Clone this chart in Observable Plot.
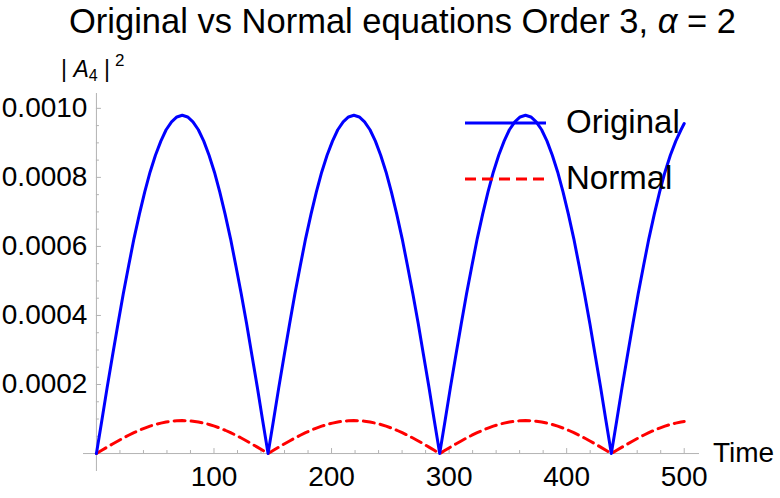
<!DOCTYPE html>
<html>
<head>
<meta charset="utf-8">
<script src="https://cdn.jsdelivr.net/npm/d3@7"></script>
<script src="https://cdn.jsdelivr.net/npm/@observablehq/plot@0.6"></script>
<style>
  body { margin: 0; background: #fff; }
  #wrap { position: relative; width: 780px; height: 498px; font-family: "Liberation Sans", Arial, sans-serif; color: #000; overflow: hidden; }
  .abs { position: absolute; white-space: nowrap; }
  #chart { position: absolute; left: 0; top: 48px; }
</style>
</head>
<body>
<div id="wrap">
  <div class="abs" id="title" style="left:69px; top:4px; font-size:34.5px; line-height:34px;">Original vs Normal equations Order 3, <i>α</i> = 2</div>
  <div class="abs" id="ylab" style="left:61px; top:58px; font-size:23px; line-height:23px;">| <i>A</i><span style="position:relative; top:4px; font-size:16px;">4</span> |<span style="position:relative; top:-11px; font-size:17px; margin-left:5px;">2</span></div>
  <div id="chart"></div>
  <div class="abs" id="xlab" style="left:713px; top:439px; font-size:28px; line-height:28px;">Time</div>
  <div class="abs" id="legend" style="left:0; top:0;"></div>
</div>
<script>
// ---- data ----
const times = [
  0, 4.6, 9.1, 13.7, 18.3, 22.8, 27.4, 31.9, 36.5, 41.1, 45.6, 50.2, 54.8, 59.3, 63.9, 68.4, 73,
  77.6, 82.1, 86.7, 91.3, 95.8, 100.4, 104.9, 109.5, 114.1, 118.6, 123.2, 127.8, 132.3, 136.9, 141.4, 146,
  150.6, 155.1, 159.7, 164.3, 168.8, 173.4, 177.9, 182.5, 187.1, 191.6, 196.2, 200.8, 205.3, 209.9, 214.4, 219,
  223.6, 228.1, 232.7, 237.3, 241.8, 246.4, 250.9, 255.5, 260.1, 264.6, 269.2, 273.8, 278.3, 282.9, 287.4, 292,
  296.6, 301.1, 305.7, 310.3, 314.8, 319.4, 323.9, 328.5, 333.1, 337.6, 342.2, 346.8, 351.3, 355.9, 360.4, 365,
  369.6, 374.1, 378.7, 383.3, 387.8, 392.4, 396.9, 401.5, 406.1, 410.6, 415.2, 419.8, 424.3, 428.9, 433.4, 438,
  442.6, 447.1, 451.7, 456.3, 460.8, 465.4, 469.9, 474.5, 479.1, 483.6, 488.2, 492.8, 497.3, 500
];
const original = [
  0, 0.0000960, 0.000191, 0.000284, 0.000375, 0.000462, 0.000544, 0.000622, 0.000693, 0.000758, 0.000815, 0.000864, 0.000905, 0.000938, 0.000961, 0.000975, 0.000980,
  0.000975, 0.000961, 0.000938, 0.000905, 0.000864, 0.000815, 0.000758, 0.000693, 0.000622, 0.000544, 0.000462, 0.000375, 0.000284, 0.000191, 0.0000960, 0,
  0.0000960, 0.000191, 0.000284, 0.000375, 0.000462, 0.000544, 0.000622, 0.000693, 0.000758, 0.000815, 0.000864, 0.000905, 0.000938, 0.000961, 0.000975, 0.000980,
  0.000975, 0.000961, 0.000938, 0.000905, 0.000864, 0.000815, 0.000758, 0.000693, 0.000622, 0.000544, 0.000462, 0.000375, 0.000284, 0.000191, 0.0000960, 0,
  0.0000960, 0.000191, 0.000284, 0.000375, 0.000462, 0.000544, 0.000622, 0.000693, 0.000758, 0.000815, 0.000864, 0.000905, 0.000938, 0.000961, 0.000975, 0.000980,
  0.000975, 0.000961, 0.000938, 0.000905, 0.000864, 0.000815, 0.000758, 0.000693, 0.000622, 0.000544, 0.000462, 0.000375, 0.000284, 0.000191, 0.0000960, 0,
  0.0000960, 0.000191, 0.000284, 0.000375, 0.000462, 0.000544, 0.000622, 0.000693, 0.000758, 0.000815, 0.000864, 0.000905, 0.000938, 0.000956
];
const normal = [
  0, 0.0000094, 0.0000186, 0.0000277, 0.0000365, 0.0000450, 0.0000531, 0.0000606, 0.0000675, 0.0000738, 0.0000794, 0.0000842, 0.0000882, 0.0000914, 0.0000937, 0.0000950, 0.0000955,
  0.0000950, 0.0000937, 0.0000914, 0.0000882, 0.0000842, 0.0000794, 0.0000738, 0.0000675, 0.0000606, 0.0000531, 0.0000450, 0.0000365, 0.0000277, 0.0000186, 0.0000094, 0,
  0.0000094, 0.0000186, 0.0000277, 0.0000365, 0.0000450, 0.0000531, 0.0000606, 0.0000675, 0.0000738, 0.0000794, 0.0000842, 0.0000882, 0.0000914, 0.0000937, 0.0000950, 0.0000955,
  0.0000950, 0.0000937, 0.0000914, 0.0000882, 0.0000842, 0.0000794, 0.0000738, 0.0000675, 0.0000606, 0.0000531, 0.0000450, 0.0000365, 0.0000277, 0.0000186, 0.0000094, 0,
  0.0000094, 0.0000186, 0.0000277, 0.0000365, 0.0000450, 0.0000531, 0.0000606, 0.0000675, 0.0000738, 0.0000794, 0.0000842, 0.0000882, 0.0000914, 0.0000937, 0.0000950, 0.0000955,
  0.0000950, 0.0000937, 0.0000914, 0.0000882, 0.0000842, 0.0000794, 0.0000738, 0.0000675, 0.0000606, 0.0000531, 0.0000450, 0.0000365, 0.0000277, 0.0000186, 0.0000094, 0,
  0.0000094, 0.0000186, 0.0000277, 0.0000365, 0.0000450, 0.0000531, 0.0000606, 0.0000675, 0.0000738, 0.0000794, 0.0000842, 0.0000882, 0.0000914, 0.0000930
];
const seriesNames = ["Original", "Normal"];
const seriesColors = ["#0000ff", "#ff0000"];
const xTicksMajor = [100, 200, 300, 400, 500];
const xTickLabels = ["100", "200", "300", "400", "500"];
const xTicksMinor = [20, 40, 60, 80, 120, 140, 160, 180, 220, 240, 260, 280, 320, 340, 360, 380, 420, 440, 460, 480];
const yTicksMajor = [0.0002, 0.0004, 0.0006, 0.0008, 0.0010];
const yTickLabels = ["0.0002", "0.0004", "0.0006", "0.0008", "0.0010"];
const yTicksMinor = [0.00005, 0.0001, 0.00015, 0.00025, 0.0003, 0.00035, 0.00045, 0.0005, 0.00055, 0.00065, 0.0007, 0.00075, 0.00085, 0.0009, 0.00095];

// ---- tables ----
const origData = times.map((t, i) => ({t, v: original[i]}));
const normData = times.map((t, i) => ({t, v: normal[i]}));
const axisColor = "#b3b3b3";

const chart = Plot.plot({
  width: 780,
  height: 450,
  marginLeft: 83,
  marginRight: 81,
  marginTop: 45,
  marginBottom: 27,
  x: {domain: [-11, 513], axis: null},
  y: {domain: [-0.000052, 0.001043], axis: null},
  style: {fontFamily: "'Liberation Sans', Arial, sans-serif", overflow: "visible", background: "transparent"},
  marks: [
    Plot.ruleY([0], {stroke: axisColor, strokeWidth: 1}),
    Plot.ruleX([0], {stroke: axisColor, strokeWidth: 1}),
    Plot.ruleX(xTicksMinor, {x: d => d, y1: 0, y2: 0, insetTop: -3, stroke: axisColor}),
    Plot.ruleX(xTicksMajor, {x: d => d, y1: 0, y2: 0, insetTop: -5, stroke: axisColor}),
    Plot.ruleY(yTicksMinor, {y: d => d, x1: 0, x2: 0, insetRight: -3, stroke: axisColor}),
    Plot.ruleY(yTicksMajor, {y: d => d, x1: 0, x2: 0, insetRight: -5, stroke: axisColor}),
    Plot.text(yTicksMajor, {x: 0, y: d => d, text: (d, i) => yTickLabels[i], textAnchor: "end", dx: -9, fontSize: 28, fill: "#000"}),
    Plot.text(xTicksMajor, {x: d => d, y: 0, text: (d, i) => xTickLabels[i], dy: 23, fontSize: 28, fill: "#000"}),
    Plot.line(normData, {x: "t", y: "v", stroke: seriesColors[1], strokeWidth: 3, strokeDasharray: "11,6"}),
    Plot.line(origData, {x: "t", y: "v", stroke: seriesColors[0], strokeWidth: 3, strokeLinejoin: "round"})
  ]
});
document.getElementById("chart").appendChild(chart);

// ---- legend ----
const legend = document.getElementById("legend");
legend.innerHTML = `
  <svg class="abs" style="left:463px; top:113px; overflow:visible" width="86" height="80">
    <line x1="2" x2="83" y1="10" y2="10" stroke="${seriesColors[0]}" stroke-width="3"/>
    <line x1="2" x2="83" y1="66" y2="66" stroke="${seriesColors[1]}" stroke-width="3" stroke-dasharray="11,6"/>
  </svg>
  <div class="abs" style="left:566px; top:105px; font-size:33px; line-height:33px;">${seriesNames[0]}</div>
  <div class="abs" style="left:566px; top:161px; font-size:33px; line-height:33px;">${seriesNames[1]}</div>
`;
</script>
</body>
</html>
